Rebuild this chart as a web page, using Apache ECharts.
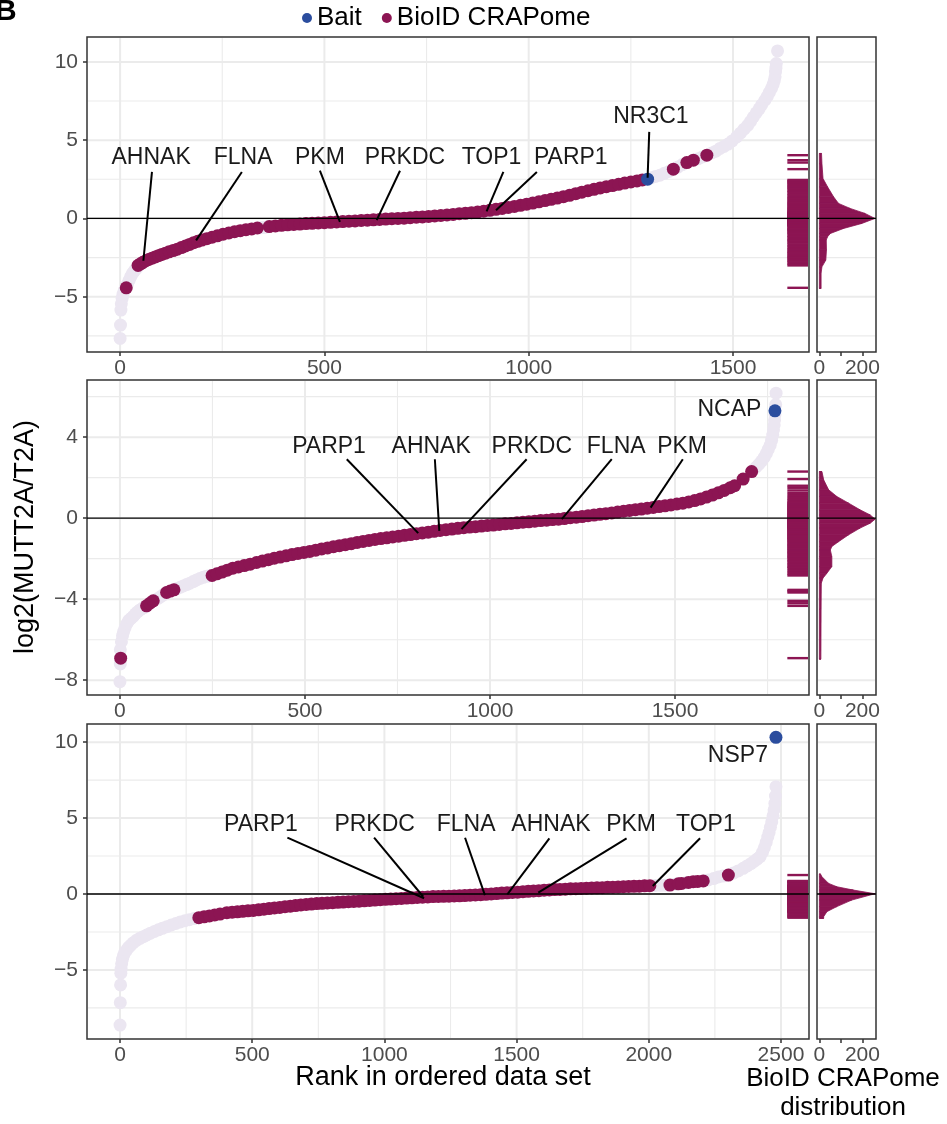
<!DOCTYPE html>
<html>
<head>
<meta charset="utf-8">
<script src="https://cdn.jsdelivr.net/npm/echarts@6/dist/echarts.min.js"></script>
<style>
html, body { margin: 0; padding: 0; background: #fff; }
#chart { width: 947px; height: 1124px; }
</style>
</head>
<body>
<div id="chart"></div>
<script>
// ---- panel 1 (NR3C1) : [rank, log2 ratio] ----
const p1Other = [
  [0,-7.66],[1,-6.81],[2,-5.85],[3,-5.45],[5,-5.1],[7,-4.85],[10,-4.6],[18,-4.2],[22,-3.95],[26,-3.72],
  [30,-3.52],[34,-3.38],[38,-3.25],[42,-3.12],
  [345,-0.59],[352,-0.57],[358,-0.55],
  [1300,2.6],[1310,2.68],[1321,2.76],[1332,2.88],[1343,3.0],[1365,3.28],[1376,3.44],[1415,3.82],[1425,3.93],
  [1448,4.18],[1458,4.3],[1468,4.47],[1478,4.6],[1488,4.75],[1498,4.95],[1509,5.21],[1518,5.45],[1527,5.7],
  [1536,5.95],[1543,6.2],[1550,6.48],[1557,6.75],[1564,7.0],[1570,7.25],[1578,7.55],[1584,7.8],[1589,8.05],
  [1594,8.3],[1598,8.55],[1601,8.8],[1603,9.05],[1604,9.35],[1605,9.6],[1606,9.89],[1609,10.7]
];
const p1Crap = [
  [15,-4.43],
  [44,-3.0],[50,-2.9],[56,-2.8],[63,-2.7],[70,-2.62],[78,-2.54],[86,-2.46],[94,-2.38],[102,-2.3],[111,-2.22],
  [120,-2.13],[130,-2.05],[140,-1.96],[150,-1.86],[160,-1.76],[170,-1.66],[180,-1.55],[190,-1.46],[200,-1.38],
  [212,-1.29],[225,-1.2],[238,-1.11],[252,-1.01],[266,-0.93],[280,-0.85],[294,-0.78],[308,-0.72],[322,-0.67],
  [336,-0.61],[365,-0.52],[380,-0.48],[395,-0.44],[410,-0.41],[425,-0.38],[440,-0.36],[455,-0.33],[470,-0.31],
  [485,-0.29],[500,-0.27],[515,-0.25],[530,-0.22],[545,-0.2],[560,-0.18],[575,-0.16],[590,-0.13],[605,-0.11],
  [620,-0.09],[635,-0.06],[650,-0.04],[665,-0.02],[680,0.0],[695,0.02],[710,0.05],[725,0.08],[740,0.1],
  [755,0.13],[770,0.16],[785,0.19],[800,0.22],[815,0.26],[830,0.3],[845,0.33],[860,0.37],[875,0.41],
  [890,0.46],[905,0.52],[920,0.58],[935,0.64],[950,0.7],[965,0.77],[980,0.84],[995,0.91],[1010,0.98],
  [1025,1.06],[1040,1.14],[1055,1.22],[1070,1.3],[1085,1.39],[1100,1.48],[1115,1.58],[1130,1.68],[1145,1.77],
  [1160,1.86],[1175,1.95],[1190,2.03],[1205,2.1],[1220,2.18],[1235,2.26],[1250,2.33],[1265,2.4],[1278,2.46],
  [1354,3.15],[1387,3.57],[1403,3.72],[1436,4.04]
];
const p1Bait = [[1291, 2.51]];
// marginal distribution: [count, value]
const p1Density = [
  [0,4.15],[10,4.15],[12,3.5],[17,2.55],[38,2.02],[66,1.38],[89,0.96],[143,0.64],[212,0.32],[258,0],
  [197,-0.32],[112,-0.64],[51,-0.96],[38,-1.17],[32,-1.38],[33,-2.0],[30,-2.66],[12,-3.09],[8,-3.5],
  [8,-4.47],[0,-4.47]
];
const p1LabelNames = ['AHNAK', 'FLNA', 'PKM', 'PRKDC', 'TOP1', 'PARP1', 'NR3C1'];
const p1LabelAt = [[76,3.87],[301,3.87],[489,3.87],[697,3.87],[909,3.87],[1103,3.87],[1299,6.53]];
const p1SegFrom = [[78,2.97],[298,2.97],[489,3.05],[685,3.05],[938,2.97],[1020,2.97],[1295,5.53]];
const p1SegTo = [[57,-2.7],[186,-1.4],[538,-0.22],[628,-0.11],[897,0.45],[920,0.53],[1291,2.6]];

// ---- panel 2 (NCAP) ----
const p2Other = [
  [0,-8.07],[1,-7.2],[1,-6.5],[4,-6.1],[7,-5.8],[10,-5.6],[14,-5.4],[19,-5.2],[24,-5.05],[30,-4.95],
  [36,-4.85],[42,-4.72],[48,-4.62],[54,-4.53],[60,-4.46],[66,-4.4],
  [104,-3.95],[112,-3.85],[119,-3.76],
  [155,-3.47],[163,-3.41],[171,-3.35],[180,-3.28],[189,-3.21],[198,-3.13],[207,-3.05],[216,-2.98],
  [225,-2.92],[234,-2.87],[242,-2.84],
  [1718,2.5],[1726,2.65],[1734,2.82],[1741,3.0],[1747,3.2],[1752,3.4],[1757,3.6],[1761,3.85],[1764,4.1],
  [1766,4.36],[1768,4.6],[1769,4.85],[1770,5.1],[1772,5.6],[1773,6.17]
];
const p2Crap = [
  [2,-6.91],[72,-4.33],[81,-4.2],[90,-4.08],[126,-3.67],[136,-3.6],[146,-3.54],
  [249,-2.83],[262,-2.75],[276,-2.66],[290,-2.57],[305,-2.47],[320,-2.41],[336,-2.34],[352,-2.27],[369,-2.19],
  [385,-2.12],[401,-2.05],[417,-1.98],[433,-1.92],[449,-1.86],[465,-1.8],[481,-1.74],[497,-1.69],[513,-1.64],
  [529,-1.58],[545,-1.52],[561,-1.47],[577,-1.41],[593,-1.36],[609,-1.31],[625,-1.26],[641,-1.2],[657,-1.15],
  [673,-1.1],[689,-1.05],[705,-1.01],[721,-0.97],[737,-0.93],[753,-0.89],[769,-0.85],[785,-0.81],[801,-0.77],
  [817,-0.73],[833,-0.69],[849,-0.65],[865,-0.61],[881,-0.57],[897,-0.54],[913,-0.5],[929,-0.47],[945,-0.44],
  [961,-0.42],[977,-0.39],[993,-0.36],[1009,-0.34],[1025,-0.31],[1041,-0.28],[1057,-0.26],[1073,-0.23],
  [1089,-0.2],[1105,-0.18],[1121,-0.15],[1137,-0.12],[1153,-0.1],[1169,-0.07],[1185,-0.05],[1201,-0.02],
  [1217,0.02],[1233,0.05],[1249,0.08],[1265,0.12],[1281,0.15],[1297,0.19],[1313,0.22],[1329,0.26],[1345,0.3],
  [1361,0.34],[1377,0.38],[1393,0.42],[1409,0.45],[1425,0.49],[1441,0.53],[1457,0.57],[1473,0.61],[1489,0.65],
  [1505,0.7],[1521,0.74],[1537,0.8],[1553,0.87],[1569,0.95],[1585,1.04],[1601,1.14],[1617,1.25],[1633,1.37],
  [1649,1.5],[1661,1.6],[1684,1.93],[1707,2.3]
];
const p2Bait = [[1770, 5.3]];
const p2Density = [
  [0,2.3],[12,2.3],[20,1.89],[43,1.4],[81,1.07],[136,0.74],[189,0.41],[236,0.16],[259,-0.05],[236,-0.25],
  [189,-0.49],[136,-0.82],[89,-1.16],[58,-1.4],[51,-1.57],[58,-1.9],[58,-2.39],[35,-2.72],[17,-2.96],
  [9,-3.21],[8,-4.5],[7,-6.96],[0,-6.96]
];
const p2LabelNames = ['PARP1', 'AHNAK', 'PRKDC', 'FLNA', 'PKM', 'NCAP'];
const p2LabelAt = [[565,3.52],[841,3.52],[1113,3.52],[1341,3.52],[1519,3.52],[1647,5.35]];
const p2SegFrom = [[613,2.91],[851,2.91],[1099,2.91],[1329,2.91],[1521,2.91],null];
const p2SegTo = [[806,-0.74],[863,-0.63],[923,-0.54],[1194,-0.05],[1434,0.52],null];

// ---- panel 3 (NSP7) ----
const p3Other = [
  [0,-8.63],[1,-7.16],[2,-5.99],[3,-5.22],[4,-4.95],[6,-4.6],[9,-4.3],[13,-4.05],[18,-3.85],[25,-3.69],
  [32,-3.52],[40,-3.38],[50,-3.21],[62,-3.05],[75,-2.92],[88,-2.81],[101,-2.7],[115,-2.58],[130,-2.47],
  [145,-2.36],[160,-2.26],[177,-2.15],[194,-2.04],[211,-1.94],[228,-1.84],[245,-1.76],[262,-1.69],[280,-1.62],
  [2025,0.56],[2045,0.57],[2062,0.58],[2100,0.64],[2140,0.75],[2185,0.83],[2225,0.93],[2245,1.02],[2263,1.12],
  [2280,1.18],[2320,1.38],[2338,1.52],[2357,1.69],[2372,1.85],[2386,2.0],[2398,2.15],[2410,2.3],[2421,2.46],
  [2430,2.75],[2437,3.05],[2444,3.4],[2450,3.75],[2455,4.05],[2460,4.4],[2465,4.75],[2470,5.15],[2474,5.55],
  [2477,5.97],[2479,6.45],[2481,7.07]
];
const p3Crap = [
  [298,-1.56],[318,-1.5],[338,-1.44],[358,-1.38],[378,-1.32],[404,-1.23],[424,-1.2],[444,-1.17],[464,-1.14],
  [484,-1.11],[504,-1.08],[524,-1.04],[544,-1.0],[564,-0.96],[584,-0.92],[604,-0.88],[624,-0.84],[644,-0.8],
  [664,-0.76],[684,-0.72],[704,-0.69],[724,-0.66],[744,-0.63],[764,-0.61],[784,-0.59],[804,-0.57],[824,-0.55],
  [844,-0.53],[864,-0.51],[884,-0.49],[904,-0.47],[924,-0.45],[944,-0.42],[964,-0.4],[984,-0.37],[1004,-0.35],
  [1024,-0.33],[1044,-0.31],[1064,-0.29],[1084,-0.27],[1104,-0.25],[1124,-0.23],[1144,-0.21],[1164,-0.19],
  [1184,-0.17],[1204,-0.16],[1224,-0.15],[1244,-0.14],[1264,-0.13],[1284,-0.12],[1304,-0.1],[1324,-0.08],
  [1344,-0.06],[1364,-0.04],[1384,-0.02],[1404,0.0],[1424,0.03],[1444,0.06],[1464,0.08],[1484,0.1],[1504,0.12],
  [1524,0.15],[1544,0.18],[1564,0.2],[1584,0.22],[1604,0.25],[1624,0.27],[1644,0.29],[1664,0.3],[1684,0.32],
  [1704,0.34],[1724,0.35],[1744,0.37],[1764,0.38],[1784,0.4],[1804,0.41],[1824,0.42],[1844,0.44],[1864,0.45],
  [1884,0.47],[1904,0.48],[1924,0.5],[1944,0.51],[1964,0.52],[1984,0.54],[2004,0.55],
  [2080,0.59],[2112,0.67],[2124,0.7],[2150,0.76],[2168,0.81],[2185,0.83],[2206,0.86],[2301,1.25]
];
const p3Bait = [[2481, 10.32]];
const p3Density = [
  [0,1.32],[5,1.32],[12,1.14],[43,0.7],[81,0.48],[158,0.26],[258,0.02],[150,-0.4],[81,-0.83],[35,-1.16],
  [20,-1.49],[20,-1.6],[0,-1.6]
];
const p3LabelNames = ['PARP1', 'PRKDC', 'FLNA', 'AHNAK', 'PKM', 'TOP1', 'NSP7'];
const p3LabelAt = [[533,4.55],[963,4.55],[1309,4.55],[1630,4.55],[1933,4.55],[2216,4.55],[2337,9.09]];
const p3SegFrom = [[633,3.71],[961,3.71],[1305,3.71],[1624,3.67],[1916,3.67],[2194,3.67],null];
const p3SegTo = [[1150,-0.28],[1147,-0.18],[1380,-0.07],[1465,-0.02],[1582,0.09],[2015,0.53],null];

// ---- ticks ----
const p1XTicks = [0, 500, 1000, 1500];
const p1XMinor = [250, 750, 1250];
const p1YTicks = [-5, 0, 5, 10];
const p1YMinor = [-7.5, -2.5, 2.5, 7.5];
const p2XTicks = [0, 500, 1000, 1500];
const p2XMinor = [250, 750, 1250, 1750];
const p2YTicks = [-8, -4, 0, 4];
const p2YMinor = [-6, -2, 2, 6];
const p3XTicks = [0, 500, 1000, 1500, 2000, 2500];
const p3XMinor = [250, 750, 1250, 1750, 2250];
const p3YTicks = [-5, 0, 5, 10];
const p3YMinor = [-7.5, -2.5, 2.5, 7.5];
const margTicks = [0, 100, 200];
const margLabels = [0, 200];

const FONT = '"Liberation Sans", Arial, Helvetica, sans-serif';
const COL_OTHER = '#ebe6f1';
const COL_CRAP = '#8c1553';
const COL_BAIT = '#2b4d9e';
const COL_GRID = '#ebebeb';

const panels = [
  { other: p1Other, crap: p1Crap, bait: p1Bait, density: p1Density,
    names: p1LabelNames, labelAt: p1LabelAt, segFrom: p1SegFrom, segTo: p1SegTo,
    xTicks: p1XTicks, xMinor: p1XMinor, yTicks: p1YTicks, yMinor: p1YMinor,
    xMin: -81, xMax: 1686, yMin: -8.53, yMax: 11.59, top: 37 },
  { other: p2Other, crap: p2Crap, bait: p2Bait, density: p2Density,
    names: p2LabelNames, labelAt: p2LabelAt, segFrom: p2SegFrom, segTo: p2SegTo,
    xTicks: p2XTicks, xMinor: p2XMinor, yTicks: p2YTicks, yMinor: p2YMinor,
    xMin: -89, xMax: 1862, yMin: -8.73, yMax: 6.82, top: 380 },
  { other: p3Other, crap: p3Crap, bait: p3Bait, density: p3Density,
    names: p3LabelNames, labelAt: p3LabelAt, segFrom: p3SegFrom, segTo: p3SegTo,
    xTicks: p3XTicks, xMinor: p3XMinor, yTicks: p3YTicks, yMinor: p3YMinor,
    xMin: -125, xMax: 2606, yMin: -9.55, yMax: 11.2, top: 724 }
];

function fmt(v) {
  return v < 0 ? '\u2212' + Math.abs(v) : String(v);
}

function ruleSeries(gi, dir, values, color, width, z, inset) {
  return {
    type: 'custom', xAxisIndex: gi, yAxisIndex: gi, z: z, silent: true,
    data: values.map(v => (dir === 'h' ? [0, v] : [v, 0])),
    renderItem(params, api) {
      const cs = params.coordSys;
      const p = api.coord([api.value(0), api.value(1)]);
      const shape = dir === 'h'
        ? { x1: cs.x + inset, y1: p[1], x2: cs.x + cs.width - inset, y2: p[1] }
        : { x1: p[0], y1: cs.y + inset, x2: p[0], y2: cs.y + cs.height - inset };
      return { type: 'line', shape: shape, style: { stroke: color, lineWidth: width } };
    }
  };
}

function pointSeries(name, gi, data, color, z) {
  return {
    type: 'scatter', name: name, xAxisIndex: gi, yAxisIndex: gi, data: data,
    symbolSize: 13, itemStyle: { color: color, opacity: 1 }, z: z, silent: true
  };
}

function rugSeries(gi, data) {
  return {
    type: 'custom', xAxisIndex: gi, yAxisIndex: gi, z: 3, silent: true,
    data: data,
    renderItem(params, api) {
      const cs = params.coordSys;
      const y = api.coord([api.value(0), api.value(1)])[1];
      return {
        type: 'line',
        shape: { x1: cs.x + cs.width * 0.97, y1: y, x2: cs.x + cs.width - 1, y2: y },
        style: { stroke: COL_CRAP, lineWidth: 2.4 }
      };
    }
  };
}

function densitySeries(gi, dens) {
  return {
    type: 'custom', xAxisIndex: gi, yAxisIndex: gi, z: 3, silent: true,
    data: dens,
    renderItem(params, api) {
      const i = params.dataIndex;
      if (i >= dens.length - 1) return null;
      const a = dens[i], b = dens[i + 1];
      const pts = [api.coord([0, a[1]]), api.coord(a), api.coord(b), api.coord([0, b[1]])];
      return { type: 'polygon', shape: { points: pts }, style: { fill: COL_CRAP, stroke: COL_CRAP, lineWidth: 0.8 } };
    }
  };
}

function labelSeries(gi, pn) {
  return {
    type: 'custom', xAxisIndex: gi, yAxisIndex: gi, z: 6, silent: true,
    data: pn.labelAt,
    renderItem(params, api) {
      const i = params.dataIndex;
      const p = api.coord(pn.labelAt[i]);
      const children = [{
        type: 'text', x: p[0], y: p[1],
        style: { text: pn.names[i], font: '23px ' + FONT, fill: '#1a1a1a',
          align: 'center', verticalAlign: 'middle', textAlign: 'center', textVerticalAlign: 'middle' }
      }];
      if (pn.segFrom[i]) {
        const a = api.coord(pn.segFrom[i]);
        const b = api.coord(pn.segTo[i]);
        children.push({ type: 'line', shape: { x1: a[0], y1: a[1], x2: b[0], y2: b[1] },
          style: { stroke: '#000', lineWidth: 2 } });
      }
      return { type: 'group', children: children };
    }
  };
}

const grids = [], xAxes = [], yAxes = [], series = [];
const tickStyle = { show: true, length: 4, lineStyle: { color: '#333', width: 1.5 } };
const labelStyle = { fontSize: 21, color: '#4d4d4d', fontFamily: FONT, formatter: fmt };

panels.forEach((pn, k) => {
  const gm = 2 * k, gd = 2 * k + 1;
  const box = { show: true, borderColor: '#333', borderWidth: 1.5, backgroundColor: '#fff' };
  grids.push(Object.assign({ left: 87, top: pn.top, width: 722, height: 315 }, box));
  grids.push(Object.assign({ left: 817, top: pn.top, width: 59, height: 315 }, box));

  xAxes.push({
    gridIndex: gm, type: 'value', min: pn.xMin, max: pn.xMax,
    axisLine: { show: false, onZero: false }, splitLine: { show: false },
    axisTick: Object.assign({ customValues: pn.xTicks }, tickStyle),
    axisLabel: Object.assign({ customValues: pn.xTicks, margin: 6 }, labelStyle)
  });
  xAxes.push({
    gridIndex: gd, type: 'value', min: -11, max: 263,
    axisLine: { show: false, onZero: false }, splitLine: { show: false },
    axisTick: Object.assign({ customValues: margTicks }, tickStyle),
    axisLabel: Object.assign({ customValues: margLabels, margin: 6 }, labelStyle)
  });
  yAxes.push({
    gridIndex: gm, type: 'value', min: pn.yMin, max: pn.yMax,
    axisLine: { show: false, onZero: false }, splitLine: { show: false },
    axisTick: Object.assign({ customValues: pn.yTicks }, tickStyle),
    axisLabel: Object.assign({ customValues: pn.yTicks, margin: 9 }, labelStyle)
  });
  yAxes.push({
    gridIndex: gd, type: 'value', min: pn.yMin, max: pn.yMax,
    axisLine: { show: false, onZero: false }, splitLine: { show: false },
    axisTick: { show: false }, axisLabel: { show: false }
  });

  // grid lines
  series.push(ruleSeries(gm, 'h', pn.yMinor, COL_GRID, 1.1, 1, 1));
  series.push(ruleSeries(gm, 'v', pn.xMinor, COL_GRID, 1.1, 1, 1));
  series.push(ruleSeries(gm, 'h', pn.yTicks, COL_GRID, 2, 1, 1));
  series.push(ruleSeries(gm, 'v', pn.xTicks, COL_GRID, 2, 1, 1));
  series.push(ruleSeries(gd, 'h', pn.yMinor, COL_GRID, 1.1, 1, 1));
  series.push(ruleSeries(gd, 'h', pn.yTicks, COL_GRID, 2, 1, 1));

  // points
  series.push(pointSeries('other', gm, pn.other, COL_OTHER, 2));
  series.push(pointSeries('BioID CRAPome', gm, pn.crap, COL_CRAP, 3));
  series.push(pointSeries('Bait', gm, pn.bait, COL_BAIT, 4));
  series.push(rugSeries(gm, pn.crap));
  series.push(densitySeries(gd, pn.density));

  // zero lines
  series.push(ruleSeries(gm, 'h', [0], '#000', 1.3, 5, 0));
  series.push(ruleSeries(gd, 'h', [0], '#000', 1.3, 5, 0));

  series.push(labelSeries(gm, pn));
});

const chart = echarts.init(document.getElementById('chart'), null, { renderer: 'canvas' });
chart.setOption({
  animation: false,
  backgroundColor: '#fff',
  textStyle: { fontFamily: FONT },
  legend: {
    data: ['Bait', 'BioID CRAPome'],
    left: 297, top: 0, icon: 'circle', itemWidth: 10, itemHeight: 10, itemGap: 20,
    selectedMode: false,
    textStyle: { fontSize: 26, color: '#000', fontFamily: FONT }
  },
  grid: grids,
  xAxis: xAxes,
  yAxis: yAxes,
  series: series,
  graphic: [
    { type: 'text', x: -5, y: 12, style: { text: 'B', font: 'bold 30px ' + FONT, fill: '#000',
      textAlign: 'left', textVerticalAlign: 'middle', align: 'left', verticalAlign: 'middle' } },
    { type: 'text', x: 26, y: 537, rotation: Math.PI / 2,
      style: { text: 'log2(MUTT2A/T2A)', font: '27px ' + FONT, fill: '#000',
        textAlign: 'center', textVerticalAlign: 'middle', align: 'center', verticalAlign: 'middle' } },
    { type: 'text', x: 443, y: 1078,
      style: { text: 'Rank in ordered data set', font: '27px ' + FONT, fill: '#000',
        textAlign: 'center', textVerticalAlign: 'middle', align: 'center', verticalAlign: 'middle' } },
    { type: 'text', x: 843, y: 1079,
      style: { text: 'BioID CRAPome', font: '26px ' + FONT, fill: '#000',
        textAlign: 'center', textVerticalAlign: 'middle', align: 'center', verticalAlign: 'middle' } },
    { type: 'text', x: 843, y: 1108,
      style: { text: 'distribution', font: '26px ' + FONT, fill: '#000',
        textAlign: 'center', textVerticalAlign: 'middle', align: 'center', verticalAlign: 'middle' } }
  ]
});
</script>
</body>
</html>
